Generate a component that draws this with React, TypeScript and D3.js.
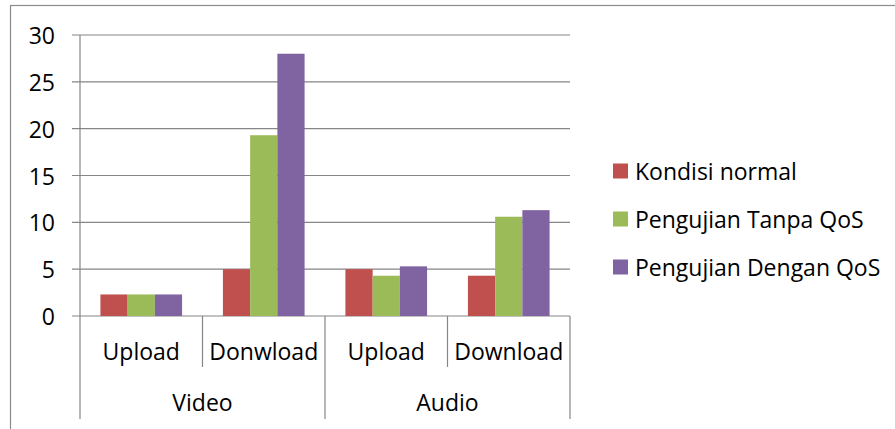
import React from "react";
import * as d3 from "d3";

const categories = ["Upload", "Donwload", "Upload", "Download"];
const groups = ["Video", "Audio"];
const seriesNames = ["Kondisi normal", "Pengujian Tanpa QoS", "Pengujian Dengan QoS"];
const kondisiNormal = [2.3, 5.0, 5.0, 4.3];
const tanpaQoS = [2.3, 19.3, 4.3, 10.6];
const denganQoS = [2.3, 28.0, 5.3, 11.3];
const yTicks = [0, 5, 10, 15, 20, 25, 30];
const colors = ["#C0504D", "#9BBB59", "#8064A2"];

const W = 895;
const H = 429;
const FONT = "'Open Sans', sans-serif";
const FS = 23;

export default function App() {
  const seriesValues = [kondisiNormal, tanpaQoS, denganQoS];
  const idx = categories.map((_, i) => String(i));
  const x = d3.scaleBand<string>().domain(idx).range([80, 570]).padding(0);
  const xi = d3
    .scaleBand<string>()
    .domain(seriesNames)
    .range([0, x.bandwidth()])
    .paddingInner(0)
    .paddingOuter(0.75);
  const y = d3.scaleLinear().domain([0, 30]).range([316, 35]);
  const gridColor = "#868686";
  const groupSpan = (g: number) => [x(String(g * 2))!, x(String(g * 2 + 1))! + x.bandwidth()];

  return (
    <svg
      width={W}
      height={H}
      style={{ position: "absolute", left: 0, top: 0, display: "block", background: "#fff" }}
      fontFamily={FONT}
    >
      <rect x={10.5} y={5.5} width={W + 20} height={H + 20} fill="#fff" stroke="#8c8c8c" strokeWidth={1.2} />
      {yTicks.map((t) => (
        <g key={t}>
          <line x1={72} x2={570} y1={y(t)} y2={y(t)} stroke={gridColor} strokeWidth={1.2} />
          <text x={55} y={y(t)} textAnchor="end" dominantBaseline="central" fontSize={FS} fill="#000">
            {t}
          </text>
        </g>
      ))}
      {seriesValues.map((vals, s) =>
        vals.map((v, i) => (
          <rect
            key={`${s}-${i}`}
            x={x(String(i))! + xi(seriesNames[s])!}
            y={y(v)}
            width={xi.bandwidth()}
            height={y(0) - y(v)}
            fill={colors[s]}
          />
        ))
      )}
      <line x1={80} x2={80} y1={35} y2={419} stroke={gridColor} strokeWidth={1.2} />
      {categories.map((c, i) => {
        const x0 = x(String(i))!;
        const xEnd = x0 + x.bandwidth();
        const isGroupEnd = i % 2 === 1;
        return (
          <g key={i}>
            <line x1={xEnd} x2={xEnd} y1={316} y2={isGroupEnd ? 419 : 367} stroke={gridColor} strokeWidth={1.2} />
            <text x={x0 + x.bandwidth() / 2} y={351} textAnchor="middle" dominantBaseline="central" fontSize={FS} fill="#000">
              {c}
            </text>
          </g>
        );
      })}
      {groups.map((g, gi) => {
        const [a, b] = groupSpan(gi);
        return (
          <text key={g} x={(a + b) / 2} y={402} textAnchor="middle" dominantBaseline="central" fontSize={FS} fill="#000">
            {g}
          </text>
        );
      })}
      {seriesNames.map((n, s) => {
        const cy = 171 + s * 48;
        return (
          <g key={n}>
            <rect x={613} y={cy - 7.5} width={15} height={15} fill={colors[s]} />
            <text x={635} y={cy} dominantBaseline="central" fontSize={FS} fill="#000">
              {n}
            </text>
          </g>
        );
      })}
    </svg>
  );
}
